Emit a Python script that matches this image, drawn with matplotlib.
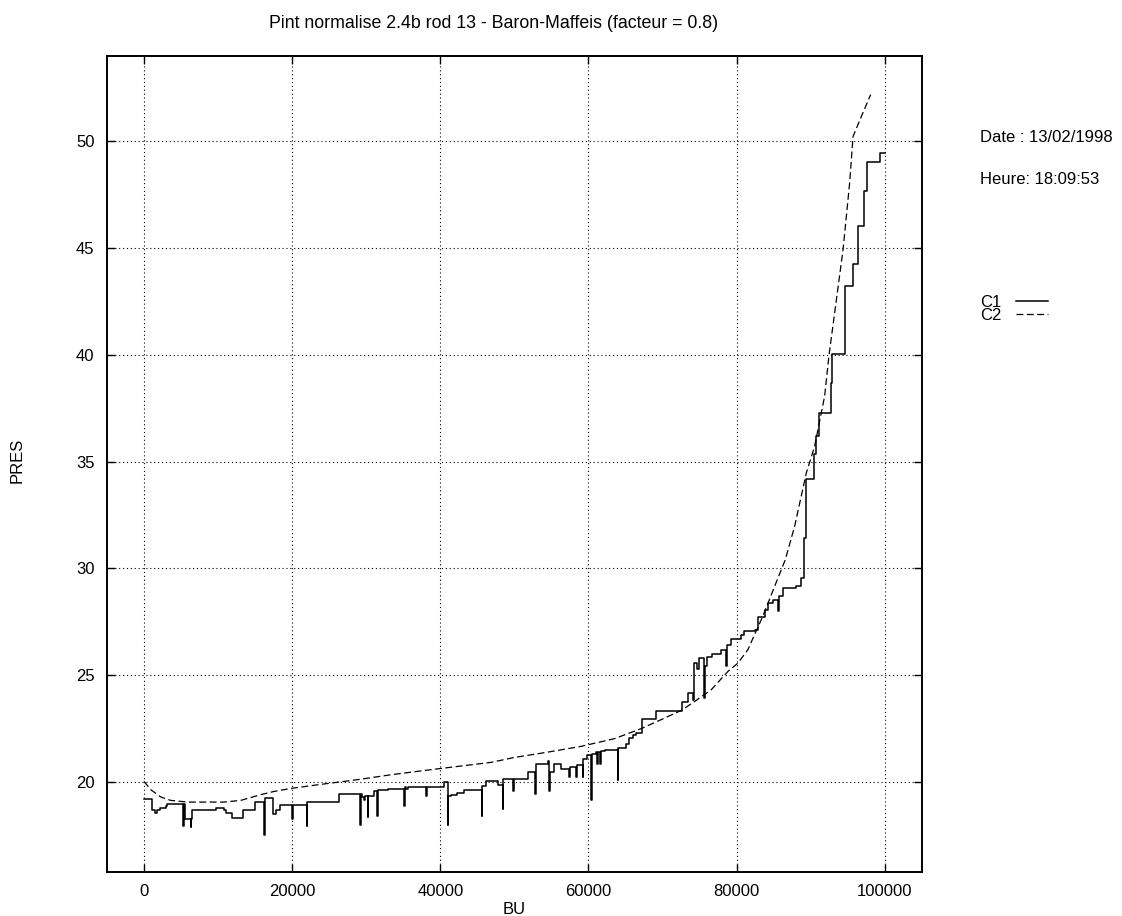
import matplotlib
matplotlib.use("Agg")
import matplotlib.pyplot as plt

plt.rcParams['font.family'] = ['Liberation Sans', 'DejaVu Sans']

# C1: stepped pressure history (value holds until next burnup point)
c1_bu = [0, 1135, 1500, 1800, 2160, 2930, 3160, 5320, 5400, 5500, 6310, 6390,
         6450, 9780, 10810, 11080, 11850, 13380, 15000, 16220, 16300, 17430,
         17800, 18340, 19920, 20050, 20270, 21950, 22030, 26350, 29190, 29270,
         29380, 29650, 29830, 30190, 30270, 31000, 31450, 31530, 32890, 35140,
         35220, 35370, 35600, 38070, 38150, 40460, 41000, 41080, 41450, 42220,
         43250, 45600, 45680, 46180, 47760, 48440, 48520, 49870, 49950, 51810,
         52800, 52880, 54520, 54730, 54810, 55330, 56310, 57430, 57510, 58340,
         58420, 59250, 59330, 59830, 60370, 60450, 61040, 61180, 61260, 61580,
         61660, 62260, 63970, 64050, 65100, 65540, 66000, 66450, 67220, 69150,
         72620, 73430, 74110, 74190, 74690, 74870, 75600, 75680, 76040, 76680,
         77940, 78610, 78690, 79190, 80540, 81000, 82430, 82890, 83790, 84250,
         84920, 85600, 85680, 86270, 88070, 88650, 89110, 89350, 90460, 90770,
         91080, 92800, 92890, 94690, 95730, 96410, 97220, 97670, 99330, 100000]
c1_pres = [19.20, 18.67, 18.55, 18.70, 18.78, 18.86, 18.98, 17.92, 18.98, 18.28, 17.90, 18.28,
           18.70, 18.80, 18.67, 18.55, 18.30, 18.67, 19.05, 17.53, 19.25, 18.50,
           18.67, 18.94, 18.27, 18.94, 18.94, 17.95, 19.05, 19.45, 18.00, 19.45,
           19.30, 19.14, 19.35, 18.37, 19.36, 19.56, 18.39, 19.64, 19.67, 18.86,
           19.78, 19.66, 19.75, 19.33, 19.75, 19.98, 18.00, 19.33, 19.40, 19.47,
           19.61, 18.40, 19.79, 20.03, 19.84, 18.74, 20.14, 19.60, 20.14, 20.45,
           19.45, 20.84, 20.97, 19.60, 20.45, 20.86, 20.61, 20.23, 20.70, 20.23,
           20.80, 20.23, 21.08, 21.25, 19.17, 21.33, 21.40, 20.84, 21.40, 20.84,
           21.43, 21.48, 20.11, 21.59, 21.79, 22.06, 22.21, 22.30, 22.95, 23.31,
           23.73, 24.17, 23.85, 25.57, 25.30, 25.81, 23.93, 25.41, 25.85, 26.01,
           26.20, 25.45, 26.43, 26.70, 26.90, 27.05, 27.13, 27.73, 28.07, 28.38,
           28.54, 28.02, 28.69, 29.09, 29.19, 29.55, 31.43, 34.19, 35.35, 36.20,
           37.29, 38.68, 40.06, 43.21, 44.26, 46.02, 47.66, 49.04, 49.46, 49.46]

# C2: Baron-Maffeis correlation
c2_bu = [0, 905, 2257, 3608, 5865, 10770, 13060, 15770, 17570, 19825, 24325,
         28840, 33340, 37840, 42350, 46850, 50000, 54520, 59020, 63520, 67120,
         69820, 72530, 74330, 76580, 78840, 80190, 81540, 82430, 83340, 84250,
         85140, 86040, 86580, 87840, 89420, 90540, 91890, 92490, 94380, 95270,
         95730, 96850, 98110]
c2_pres = [20.03, 19.64, 19.30, 19.14, 19.06, 19.06, 19.14, 19.41, 19.56, 19.70,
           19.91, 20.11, 20.34, 20.54, 20.73, 20.92, 21.15, 21.40, 21.67, 22.03,
           22.50, 22.92, 23.35, 23.77, 24.32, 25.18, 25.57, 26.20, 26.90, 27.60,
           28.38, 29.16, 29.94, 30.41, 31.97, 34.47, 35.72, 38.06, 40.00, 44.93,
           48.05, 50.23, 51.17, 52.19]

x_ticks = [0, 20000, 40000, 60000, 80000, 100000]
y_ticks = [20, 25, 30, 35, 40, 45, 50]

title = "Pint normalise 2.4b rod 13 - Baron-Maffeis (facteur = 0.8)"
date_text = "Date : 13/02/1998"
time_text = "Heure: 18:09:53"

fig = plt.figure(figsize=(11.22, 9.16), dpi=100)
ax = fig.add_axes([107 / 1122, 1 - 871.7 / 916, (921.7 - 107) / 1122, (871.7 - 56) / 916])

ax.plot(c1_bu, c1_pres, color='black', lw=1.1, drawstyle='steps-post', label='C1')
ax.plot(c2_bu, c2_pres, color='black', lw=0.9, linestyle=(0, (5.5, 2.8)), label='C2')

ax.set_xlim(-5000, 105000)
ax.set_ylim(15.8, 54.0)
ax.set_xticks(x_ticks)
ax.set_yticks(y_ticks)
ax.grid(True, color='black', linestyle=(0, (1, 2.5)), linewidth=0.8)
ax.tick_params(direction='in', length=6, width=1, top=True, right=True,
               labelsize=12, pad=9)
for s in ax.spines.values():
    s.set_linewidth(1.4)

ax.set_xlabel("BU", fontsize=12, labelpad=2)
fig.text(17.5 / 1122, 1 - 460 / 916, "PRES", rotation=90, fontsize=12,
         ha='center', va='center')
fig.text(494 / 1122, 1 - 24 / 916, title, fontsize=12.8, ha='center', va='center')
fig.text(980 / 1122, 1 - 137 / 916, date_text, fontsize=12, ha='left', va='center')
fig.text(980 / 1122, 1 - 180 / 916, time_text, fontsize=12, ha='left', va='center')

leg = ax.legend(loc='upper left', bbox_to_anchor=(1.053, 0.726), frameon=False,
                fontsize=12, handlelength=1.9, handletextpad=0.9,
                labelspacing=-0.08, markerfirst=False)

fig.savefig("out.png", dpi=100)
